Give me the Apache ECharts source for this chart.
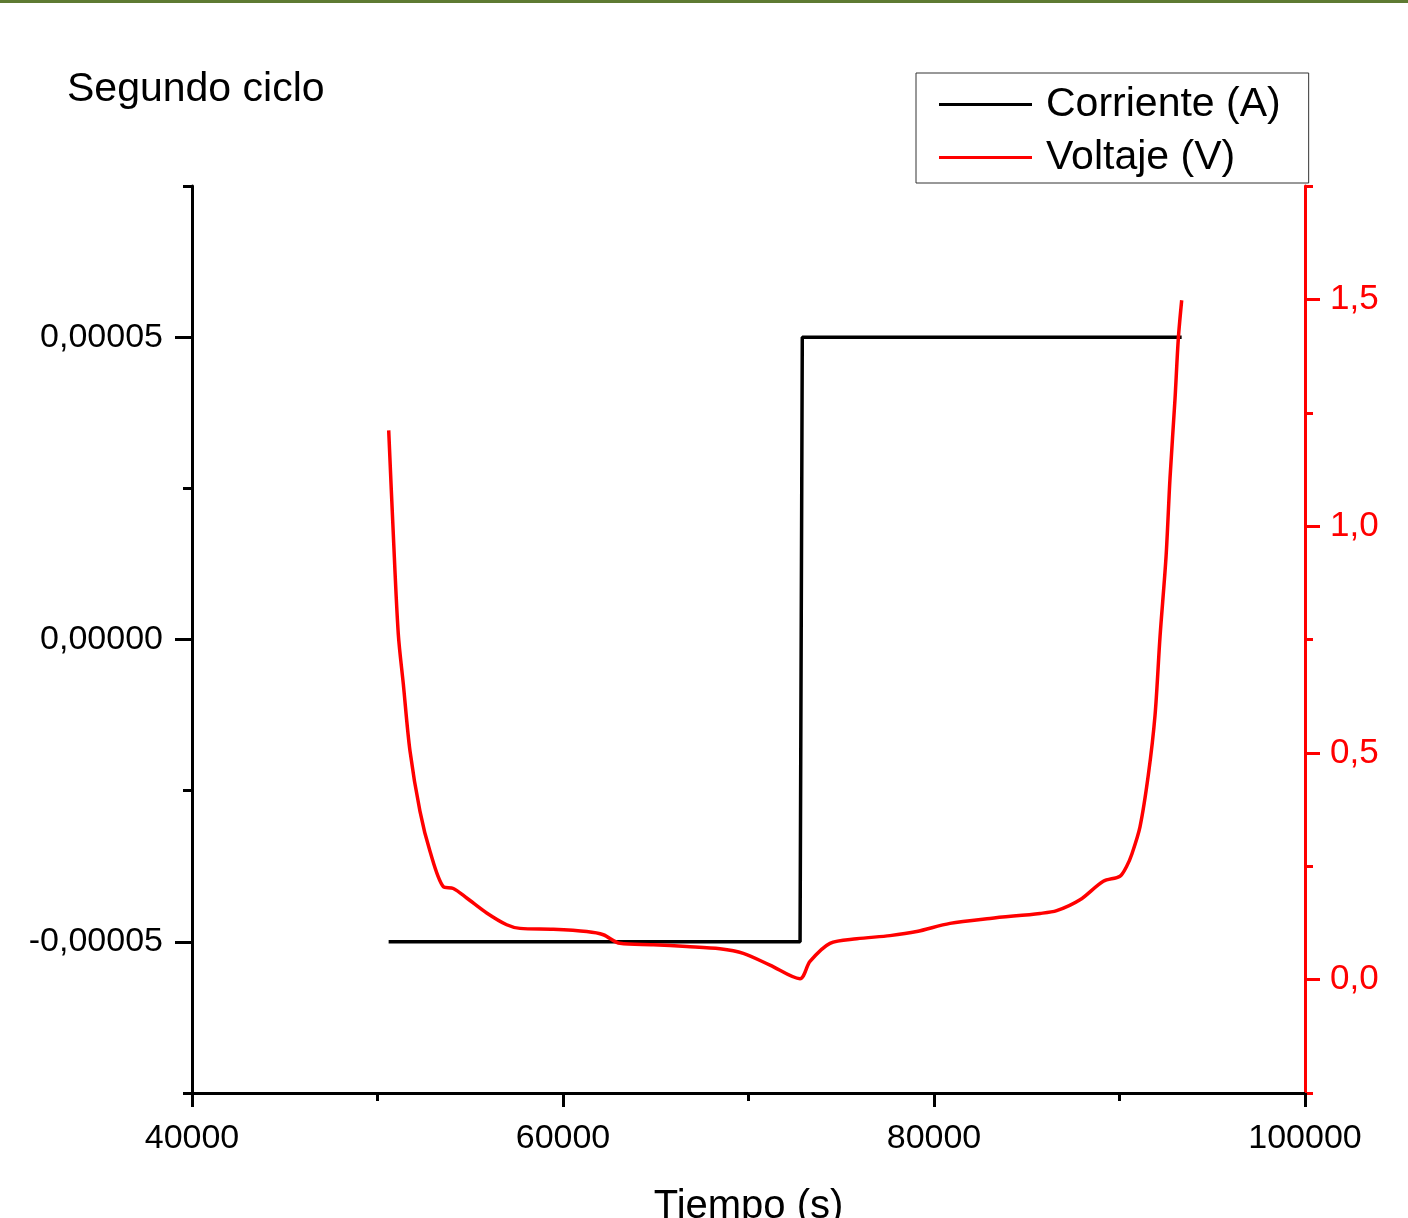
<!DOCTYPE html>
<html>
<head>
    <meta charset="utf-8">
    <script src="https://cdn.jsdelivr.net/npm/echarts@6/dist/echarts.min.js"></script>
    <style>
        html, body { margin: 0; padding: 0; background: #fff; }
    </style>
</head>
<body>
    <div id="main" style="width: 1408px;height:1218px;"></div>
    <script type="text/javascript">
        // Corriente: escalon de -5e-5 a 5e-5 A
        var tiempoCorriente = [50600, 72780, 72900, 93350];
        var corriente = [-0.00005, -0.00005, 0.00005, 0.00005];

        var tiempoVoltaje = [50604, 50852, 51121, 51391, 51752, 52291, 52830, 53547, 54086, 54809,
            55887, 56965, 57682, 59477, 61278, 62173, 63073, 64868, 66669, 68463,
            69720, 71159, 72776, 73315, 74393, 75833, 77628, 79067, 80862, 83019,
            85714, 86614, 87871, 89127, 90027, 90388, 90658, 91105, 91553, 91914,
            92184, 92507, 92723, 92992, 93170, 93353];
        var voltaje = [1.211, 0.982, 0.762, 0.652, 0.504, 0.371, 0.283, 0.205, 0.201, 0.180,
            0.147, 0.121, 0.113, 0.111, 0.106, 0.099, 0.080, 0.077, 0.073, 0.068,
            0.058, 0.032, 0.002, 0.040, 0.080, 0.090, 0.097, 0.106, 0.124, 0.135,
            0.146, 0.152, 0.176, 0.217, 0.228, 0.250, 0.276, 0.337, 0.451, 0.582,
            0.756, 0.931, 1.106, 1.280, 1.413, 1.498];

        var etiquetasIzq = [-0.00005, 0, 0.00005];
        var etiquetasDer = [0, 0.5, 1.0, 1.5];

        function pares(xs, ys) {
            var out = [];
            for (var i = 0; i < xs.length; i++) out.push([xs[i], ys[i]]);
            return out;
        }

        var fuente = "'Liberation Sans', Arial, sans-serif";
        var iconoLinea = 'path://M0,0H93V3H0Z';

        var option = {
            animation: false,
            backgroundColor: '#fff',
            textStyle: { fontFamily: fuente },
            graphic: [{
                type: 'rect',
                left: 0, top: 0,
                shape: { width: 1408, height: 3 },
                style: { fill: '#5e7a32' }
            }],
            title: {
                text: 'Segundo ciclo',
                left: 62,
                top: 64,
                textStyle: { fontFamily: fuente, fontSize: 41, fontWeight: 'normal', color: '#000' }
            },
            legend: {
                orient: 'vertical',
                left: 916,
                top: 73,
                padding: [11, 28, 5, 23],
                itemGap: 12,
                itemWidth: 93,
                itemHeight: 40,
                icon: iconoLinea,
                borderColor: '#333',
                borderWidth: 1,
                textStyle: { fontFamily: fuente, fontSize: 41, color: '#000', padding: [0, 0, 0, 9] },
                data: ['Corriente (A)', 'Voltaje (V)']
            },
            grid: {
                left: 192,
                right: 103,
                top: 186,
                bottom: 125,
                outerBoundsMode: 'none',
                containLabel: false
            },
            xAxis: {
                type: 'value',
                min: 40000,
                max: 100000,
                interval: 20000,
                name: 'Tiempo (s)',
                nameLocation: 'middle',
                nameGap: 94,
                nameTextStyle: { fontFamily: fuente, fontSize: 40, color: '#000' },
                axisLine: { show: true, onZero: false, lineStyle: { color: '#000', width: 3 } },
                axisTick: { show: true, length: 14, lineStyle: { color: '#000', width: 3 } },
                minorTick: { show: true, splitNumber: 2, length: 8, lineStyle: { color: '#000', width: 3 } },
                axisLabel: {
                    fontFamily: fuente, fontSize: 34, color: '#000', margin: 29,
                    formatter: function (v) { return String(v); }
                },
                splitLine: { show: false }
            },
            yAxis: [
                {
                    type: 'value',
                    position: 'left',
                    min: -0.000075,
                    max: 0.000075,
                    interval: 0.000025,
                    axisLine: { show: true, onZero: false, lineStyle: { color: '#000', width: 3 } },
                    axisTick: { show: true, length: 9, lineStyle: { color: '#000', width: 3 } },
                    axisLabel: {
                        customValues: etiquetasIzq,
                        fontFamily: fuente, fontSize: 34, color: '#000', margin: 29,
                        formatter: function (v) { return v.toFixed(5).replace('.', ','); }
                    },
                    splitLine: { show: false }
                },
                {
                    type: 'value',
                    position: 'right',
                    min: -0.25,
                    max: 1.75,
                    interval: 0.25,
                    axisLine: { show: true, onZero: false, lineStyle: { color: '#ff0000', width: 3 } },
                    axisTick: { show: true, length: 8, lineStyle: { color: '#ff0000', width: 3 } },
                    axisLabel: {
                        customValues: etiquetasDer,
                        fontFamily: fuente, fontSize: 35, color: '#ff0000', margin: 25,
                        formatter: function (v) { return v.toFixed(1).replace('.', ','); }
                    },
                    splitLine: { show: false }
                },
                {
                    // marcas mayores izquierda
                    type: 'value',
                    position: 'left',
                    min: -0.000075,
                    max: 0.000075,
                    axisLine: { show: false },
                    axisTick: { show: true, customValues: etiquetasIzq, length: 17, lineStyle: { color: '#000', width: 3 } },
                    axisLabel: { show: false },
                    splitLine: { show: false }
                },
                {
                    // marcas mayores derecha
                    type: 'value',
                    position: 'right',
                    min: -0.25,
                    max: 1.75,
                    axisLine: { show: false },
                    axisTick: { show: true, customValues: etiquetasDer, length: 15, lineStyle: { color: '#ff0000', width: 3 } },
                    axisLabel: { show: false },
                    splitLine: { show: false }
                }
            ],
            series: [
                {
                    name: 'Corriente (A)',
                    type: 'line',
                    yAxisIndex: 0,
                    symbol: 'none',
                    lineStyle: { color: '#000', width: 3.5 },
                    itemStyle: { color: '#000' },
                    data: pares(tiempoCorriente, corriente)
                },
                {
                    name: 'Voltaje (V)',
                    type: 'line',
                    yAxisIndex: 1,
                    symbol: 'none',
                    smooth: 0.3,
                    lineStyle: { color: '#ff0000', width: 3.5 },
                    itemStyle: { color: '#ff0000' },
                    data: pares(tiempoVoltaje, voltaje)
                }
            ]
        };

        var myChart = echarts.init(document.getElementById('main'));
        myChart.setOption(option);
    </script>
</body>
</html>
